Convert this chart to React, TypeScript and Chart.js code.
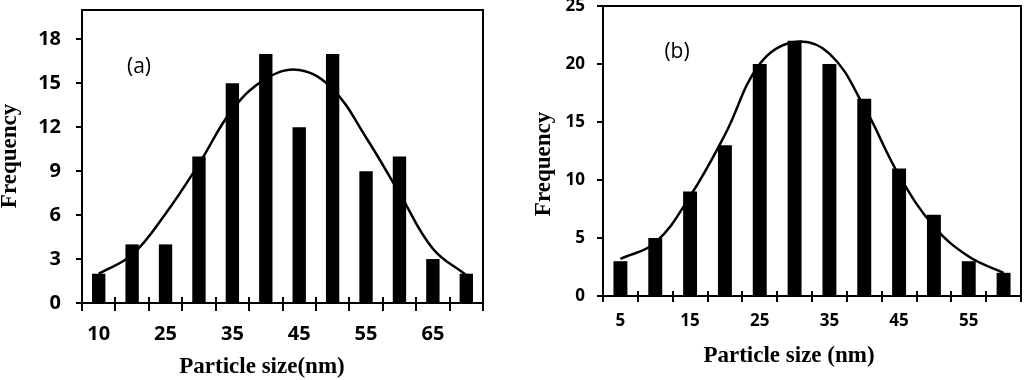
import React, { useEffect, useRef } from 'react';
import { Chart, registerables } from 'chart.js';

Chart.register(...registerables);

// ---- Panel (a) data ----
const sizesA = ['10', '20', '25', '30', '35', '40', '45', '50', '55', '60', '65', '70'];
const frequencyA = [2, 4, 4, 10, 15, 17, 12, 17, 9, 10, 3, 2];
const fitA = [2.0, 3.3, 6.1, 9.5, 13.2, 15.3, 15.9, 14.6, 11.3, 7.5, 3.7, 1.9];
const yMaxA = 20;
const yStepA = 3;

// ---- Panel (b) data ----
const sizesB = ['5', '10', '15', '20', '25', '30', '35', '40', '45', '50', '55', '60'];
const frequencyB = [3, 5, 9, 13, 20, 22, 20, 17, 11, 7, 3, 2];
const fitB = [3.2, 4.6, 8.6, 13.9, 20.0, 21.9, 20.9, 16.3, 10.4, 6.0, 3.4, 2.0];
const yMaxB = 25;
const yStepB = 5;

const TICK_FONT = "'Open Sans', 'DejaVu Sans', sans-serif";
const TITLE_FONT = "'Liberation Serif', 'DejaVu Serif', serif";

type PanelCfg = {
  labels: string[];
  bars: number[];
  fit: number[];
  yMax: number;
  yStep: number;
  tickFontSize: number;
  yLabelPad: number;
  xLabelPad: number;
  yAxisWidth: number;
  xAxisHeight: number;
  padding: { left: number; top: number; right: number; bottom: number };
  xTickUp: number;
  xTickDown: number;
  yTick: number;
  xTitle: string;
  xTitlePos: [number, number];
  yTitle: string;
  yTitlePos: [number, number];
  panel: string;
  panelPos: [number, number];
};

function makeFramePlugin(cfg: PanelCfg) {
  return {
    id: 'frameAndText',
    afterDraw(chart: any) {
      const { ctx, chartArea: a } = chart;
      const x = chart.scales.x;
      const y = chart.scales.y;
      ctx.save();
      ctx.strokeStyle = '#000';
      ctx.lineWidth = 2;
      ctx.strokeRect(a.left, a.top, a.right - a.left, a.bottom - a.top);
      ctx.beginPath();
      const n = chart.data.labels.length;
      for (let i = 0; i <= n; i++) {
        const px = Math.round(x.getPixelForValue(i - 0.5));
        ctx.moveTo(px, a.bottom - cfg.xTickUp);
        ctx.lineTo(px, a.bottom + cfg.xTickDown);
      }
      y.ticks.forEach((t: any) => {
        if (t.value % cfg.yStep !== 0) return;
        const py = Math.round(y.getPixelForValue(t.value));
        ctx.moveTo(a.left - cfg.yTick, py);
        ctx.lineTo(a.left, py);
      });
      ctx.stroke();

      ctx.fillStyle = '#000';
      ctx.textAlign = 'center';
      ctx.textBaseline = 'middle';
      ctx.font = `bold 23px ${TITLE_FONT}`;
      ctx.fillText(cfg.xTitle, cfg.xTitlePos[0], cfg.xTitlePos[1]);
      ctx.save();
      ctx.translate(cfg.yTitlePos[0], cfg.yTitlePos[1]);
      ctx.rotate(-Math.PI / 2);
      ctx.fillText(cfg.yTitle, 0, 0);
      ctx.restore();
      ctx.font = `21px ${TICK_FONT}`;
      ctx.fillText(cfg.panel, cfg.panelPos[0], cfg.panelPos[1]);
      ctx.restore();
    },
  };
}

function Panel({ cfg }: { cfg: PanelCfg }) {
  const ref = useRef<HTMLCanvasElement | null>(null);
  useEffect(() => {
    if (!ref.current) return;
    const tickFont = { family: TICK_FONT, weight: 'bold', size: cfg.tickFontSize };
    const chart = new Chart(ref.current, {
      type: 'bar',
      data: {
        labels: cfg.labels,
        datasets: [
          {
            type: 'line',
            data: cfg.fit,
            borderColor: '#000',
            borderWidth: 2.5,
            pointRadius: 0,
            tension: 0.4,
            fill: false,
            order: 0,
          } as any,
          {
            type: 'bar',
            data: cfg.bars,
            backgroundColor: '#000',
            borderWidth: 0,
            barPercentage: 0.4,
            categoryPercentage: 1.0,
            order: 1,
          } as any,
        ],
      },
      options: {
        animation: false,
        responsive: false,
        events: [],
        layout: { padding: cfg.padding, autoPadding: false } as any,
        plugins: { legend: { display: false }, tooltip: { enabled: false } },
        scales: {
          x: {
            offset: true,
            grid: { display: false, offset: true, tickLength: cfg.xTickDown },
            border: { display: false },
            ticks: {
              autoSkip: false,
              maxRotation: 0,
              padding: cfg.xLabelPad,
              color: '#000',
              font: tickFont,
              callback: function (this: any, v: any, i: number) {
                return i % 2 === 0 ? this.getLabelForValue(v) : '';
              },
            },
            afterFit: (s: any) => {
              s.height = cfg.xAxisHeight;
              s.paddingLeft = 0;
              s.paddingRight = 0;
            },
          },
          y: {
            min: 0,
            max: cfg.yMax,
            grid: { display: false, tickLength: cfg.yTick },
            border: { display: false },
            ticks: {
              stepSize: cfg.yStep,
              padding: cfg.yLabelPad,
              color: '#000',
              font: tickFont,
              callback: (v: any) => (Number(v) % cfg.yStep === 0 ? String(v) : ''),
            },
            afterFit: (s: any) => {
              s.width = cfg.yAxisWidth;
              s.paddingTop = 0;
              s.paddingBottom = 0;
            },
          },
        },
      } as any,
      plugins: [makeFramePlugin(cfg)],
    });
    return () => chart.destroy();
  }, [cfg]);
  return <canvas ref={ref} width={512} height={380} style={{ display: 'block', width: 512, height: 380 }} />;
}

const cfgA: PanelCfg = {
  labels: sizesA,
  bars: frequencyA,
  fit: fitA,
  yMax: yMaxA,
  yStep: yStepA,
  tickFontSize: 20,
  yLabelPad: 15,
  xLabelPad: 11,
  yAxisWidth: 82,
  xAxisHeight: 77,
  padding: { left: 0, top: 10, right: 29, bottom: 0 },
  xTickUp: 6,
  xTickDown: 8,
  yTick: 6,
  xTitle: 'Particle size(nm)',
  xTitlePos: [262, 367],
  yTitle: 'Frequency',
  yTitlePos: [10, 156],
  panel: '(a)',
  panelPos: [139, 67],
};

const cfgB: PanelCfg = {
  labels: sizesB,
  bars: frequencyB,
  fit: fitB,
  yMax: yMaxB,
  yStep: yStepB,
  tickFontSize: 17,
  yLabelPad: 12,
  xLabelPad: 9,
  yAxisWidth: 91,
  xAxisHeight: 84,
  padding: { left: 0, top: 6, right: 3, bottom: 0 },
  xTickUp: 5,
  xTickDown: 6,
  yTick: 6,
  xTitle: 'Particle size (nm)',
  xTitlePos: [277, 356],
  yTitle: 'Frequency',
  yTitlePos: [32, 164],
  panel: '(b)',
  panelPos: [165, 52],
};

export default function App() {
  return (
    <div style={{ position: 'absolute', left: 0, top: 0, width: 1024, height: 380, display: 'flex', background: '#fff' }}>
      <Panel cfg={cfgA} />
      <Panel cfg={cfgB} />
    </div>
  );
}
